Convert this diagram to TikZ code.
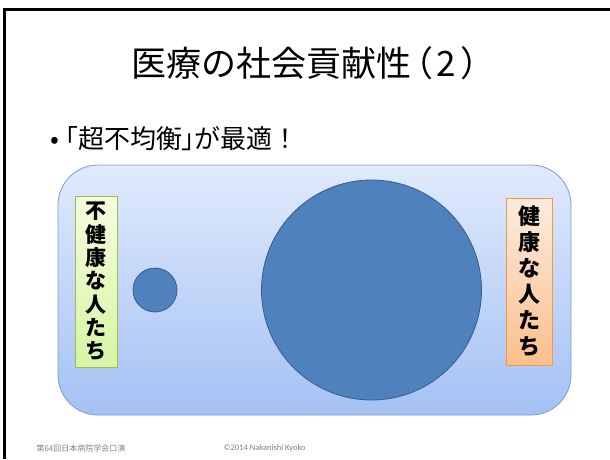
\documentclass[tikz,border=0pt]{standalone}
\usepackage{fontspec}
\setmainfont{Noto Sans CJK JP}
\newfontfamily\fussfont{Carlito}
\usetikzlibrary{shadings}

\definecolor{rahmenblau}{RGB}{124,157,210}
\definecolor{kreisblau}{RGB}{79,129,189}
\definecolor{kreisrand}{RGB}{56,93,138}
\definecolor{gruenrand}{RGB}{155,187,89}
\definecolor{orangerand}{RGB}{247,150,70}

\begin{document}
\begin{tikzpicture}[x=1pt,y=-1pt,
  lbl/.style={draw,align=center,inner sep=0pt,font=\bfseries\fontsize{21}{23.3}\selectfont},
  kreis/.style={circle,draw=kreisrand,fill=kreisblau,line width=0.8pt,inner sep=0pt}]
  \useasboundingbox (0,0) rectangle (610,459);
  % Folienrahmen
  \draw[line width=3pt] (4.5,459) -- (4.5,9.5) -- (610,9.5);
  % Titel
  \node[anchor=base west,inner sep=0pt] (titel) at (131.5,76)
    {\fontsize{35}{40}\selectfont 医療の社会貢献性\hspace{-13pt}（\hspace{3pt}2\hspace{4pt}）};
  \node[anchor=base west,inner sep=0pt] (punkt) at (50,148)
    {\fontsize{26}{30}\selectfont{\addfontfeatures{RawFeature=+palt}•\hspace{6pt}「超不均衡」が最適}！};
  % Hintergrund
  \shade[top color={rgb,255:red,224;green,234;blue,252},bottom color={rgb,255:red,164;green,193;blue,245},rounded corners=40pt]
    (58,165) rectangle (571,415);
  \draw[rahmenblau,line width=0.8pt,rounded corners=40pt] (58,165) rectangle (571,415);
  % Kreise
  \node[kreis,minimum size=44pt] (klein) at (155,290) {};
  \node[kreis,minimum size=220pt] (gross) at (371.5,290) {};
  % Beschriftungen
  \node[lbl,draw=gruenrand,top color={rgb,255:red,244;green,253;blue,222},bottom color={rgb,255:red,214;green,245;blue,163},
    minimum width=42pt,minimum height=171pt] (krank) at (96,281.5) {不\\健\\康\\な\\人\\た\\ち};
  \node[lbl,draw=orangerand,top color={rgb,255:red,253;green,236;blue,222},bottom color={rgb,255:red,251;green,191;blue,140},
    minimum width=46pt,minimum height=167pt,font=\bfseries\fontsize{22}{26}\selectfont] (gesund) at (529,281.5) {健\\康\\な\\人\\た\\ち};
  % Fusszeile
  \node[anchor=west,gray,font=\fontsize{8}{9}\selectfont] (fuss) at (33,448) {第64回日本病院学会口演};
  \node[anchor=west,gray,font=\fussfont\fontsize{8.5}{9}\selectfont] (copy) at (220,448) {©2014 Nakanishi Kyoko};
\end{tikzpicture}
\end{document}
